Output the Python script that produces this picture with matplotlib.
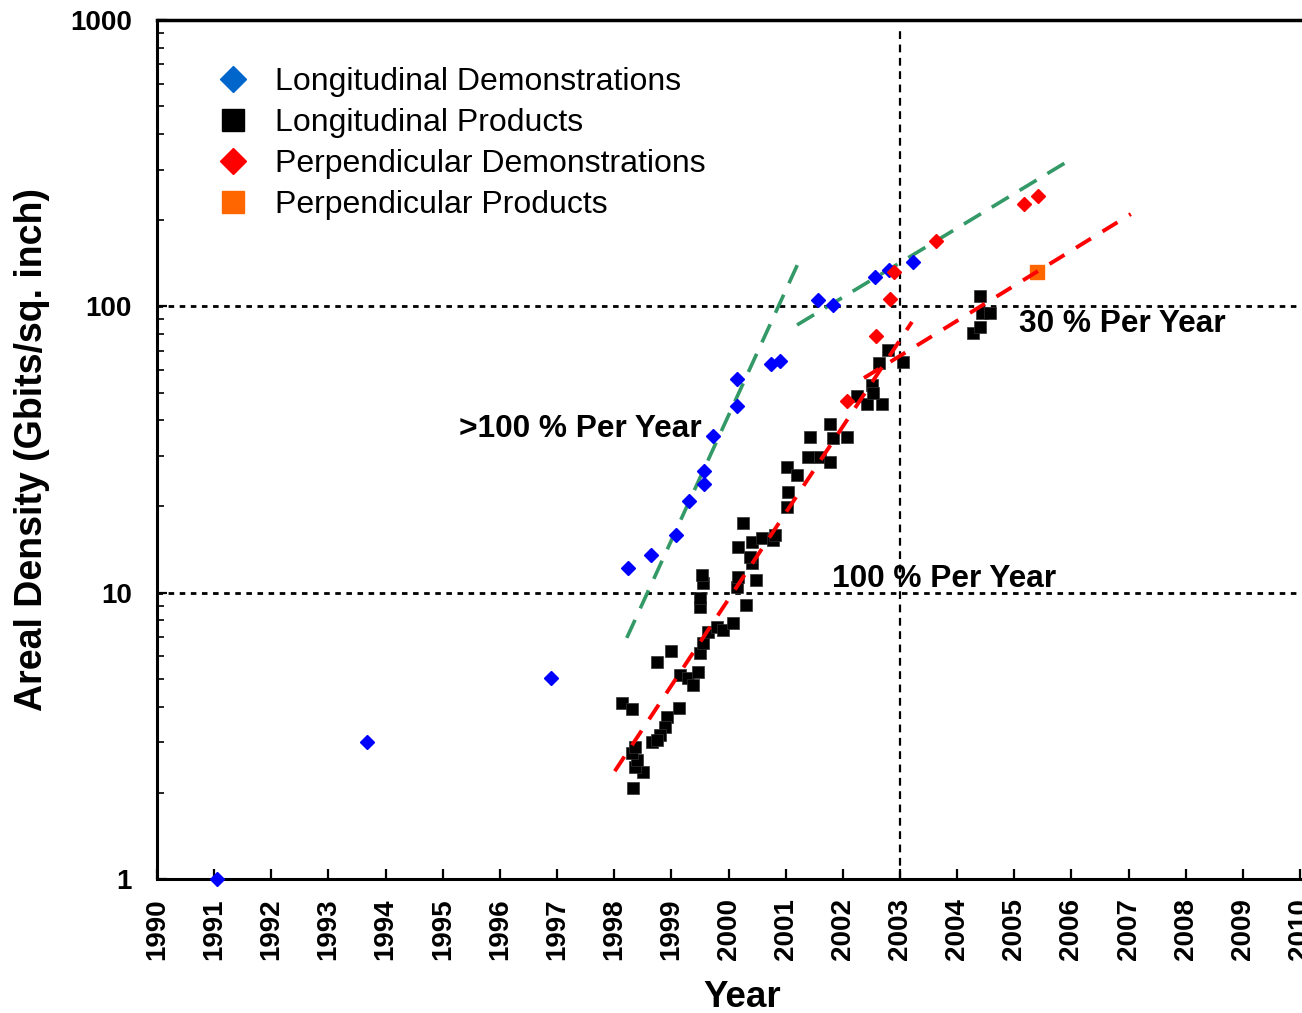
import matplotlib
matplotlib.use("Agg")
import matplotlib.pyplot as plt
from matplotlib.lines import Line2D
import numpy as np

plt.rcParams['font.family'] = ['Liberation Sans', 'DejaVu Sans']

# ---- data ----
long_demo_year = [1991.05, 1993.67, 1996.89, 1998.24, 1998.64, 1999.08, 1999.31, 1999.57,
                  1999.57, 1999.73, 2000.15, 2000.15, 2000.74, 2000.90, 2001.57, 2001.83,
                  2002.56, 2002.81, 2003.23]
long_demo_val = [1.0, 3.01, 5.04, 12.2, 13.5, 15.9, 20.9, 26.5, 24.0, 35.3, 55.8, 44.9,
                 62.9, 64.5, 105, 101, 127, 134, 143]

long_prod_year = [1998.33, 1998.50, 1998.36, 1998.40, 1998.31, 1998.36, 1998.14, 1998.31,
                  1999.13, 1998.92, 1998.89, 1998.80, 1998.66, 1998.75, 1998.75, 1998.99,
                  1999.15, 1999.29, 1999.38, 1999.47, 1999.50, 1999.55, 1999.64, 1999.80,
                  1999.90, 2000.08, 1999.50, 1999.50, 1999.55, 1999.54, 2000.31, 2000.15,
                  2000.17, 2000.48, 2000.41, 2000.38, 2000.17, 2000.41, 2000.59, 2000.78,
                  2000.81, 2000.25, 2001.02, 2001.04, 2001.02, 2001.20, 2001.43, 2001.39,
                  2001.60, 2001.78, 2001.78, 2001.83, 2002.07, 2002.25, 2002.51, 2002.42,
                  2002.69, 2002.53, 2002.63, 2002.79, 2003.05, 2004.40, 2004.44, 2004.58,
                  2004.28, 2004.40]
long_prod_val = [2.08, 2.36, 2.46, 2.60, 2.75, 2.89, 4.12, 3.92,
                 3.96, 3.68, 3.40, 3.18, 3.01, 3.06, 5.73, 6.26,
                 5.16, 5.04, 4.76, 5.28, 6.16, 6.67, 7.29, 7.59,
                 7.41, 7.84, 8.91, 9.58, 10.8, 11.5, 9.06, 10.5,
                 11.3, 11.1, 12.7, 13.3, 14.4, 15.0, 15.5, 15.3,
                 15.9, 17.5, 19.9, 22.5, 27.5, 25.8, 35.0, 29.8,
                 29.8, 28.6, 38.8, 34.7, 35.0, 48.6, 53.2, 45.6,
                 45.6, 49.8, 63.4, 70.4, 64.0, 109, 94.8, 94.8,
                 80.7, 84.7]

perp_demo_year = [2002.07, 2002.58, 2002.83, 2002.90, 2003.63, 2005.17, 2005.42]
perp_demo_val = [46.7, 78.8, 106, 132, 169, 228, 243]

perp_prod_year = [2005.40]
perp_prod_val = [132]

# trend lines (end points)
trend_green1_year = [1998.22, 2001.29]
trend_green1_val = [6.95, 152]
trend_green2_year = [2001.20, 2005.89]
trend_green2_val = [86.1, 317]
trend_red1_year = [1998.01, 2003.21]
trend_red1_val = [2.38, 88.2]
trend_red2_year = [2002.37, 2007.04]
trend_red2_val = [56.2, 210]

year_ticks = list(range(1990, 2011))
value_ticks = [1, 10, 100, 1000]
legend_labels = ["Longitudinal Demonstrations", "Longitudinal Products",
                 "Perpendicular Demonstrations", "Perpendicular Products"]

# ---- figure ----
fig = plt.figure(figsize=(13.02, 10.13), dpi=100)
ax = fig.add_axes([157/1302, 1-879/1013, 1143/1302, 859/1013])
ax.set_yscale('log')
ax.set_xlim(1990, 2010)
ax.set_ylim(1, 1000)

# reference lines
for v in [10, 100, 1000]:
    ax.axhline(v, color='black', lw=2.0, ls=(0, (2.0, 2.0)), zorder=1)
ax.plot([2003, 2003], [1, 950], color='black', lw=1.6, ls=(0, (3.5, 2.5)), zorder=1)

# trend lines
green = '#339966'
ax.plot(trend_green1_year, trend_green1_val, color=green, lw=2.6, ls=(0, (5.5, 3.5)), zorder=2)
ax.plot(trend_green2_year, trend_green2_val, color=green, lw=2.6, ls=(0, (5.5, 3.5)), zorder=2)

# data
ax.plot(long_demo_year, long_demo_val, ls='none', marker='D', ms=7.6, color='#0000FF',
        mec='#0000FF', zorder=3, clip_on=False)
ax.plot(long_prod_year, long_prod_val, ls='none', marker='s', ms=9.2, color='black',
        mec='#333333', mew=0.5, zorder=3)
ax.plot(perp_demo_year, perp_demo_val, ls='none', marker='D', ms=7.6, color='#FF0000',
        mec='#FF0000', zorder=4)
ax.plot(perp_prod_year, perp_prod_val, ls='none', marker='s', ms=10.5, color='#FF6600',
        mec='#FF6600', zorder=4)

ax.plot(trend_red1_year, trend_red1_val, color='#FF0000', lw=2.8, ls=(0, (4.5, 3.5)), zorder=5)
ax.plot(trend_red2_year, trend_red2_val, color='#FF0000', lw=2.8, ls=(0, (4.5, 3.5)), zorder=5)

# annotations
ax.text(1995.28, 37.2, ">100 % Per Year", fontsize=22.8, fontweight='bold', va='center', ha='left')
ax.text(2001.81, 11.2, "100 % Per Year", fontsize=22.8, fontweight='bold', va='center', ha='left')
ax.text(2005.08, 87, "30 % Per Year", fontsize=22.8, fontweight='bold', va='center', ha='left')

# axes styling
ax.spines['right'].set_visible(False)
ax.spines['top'].set_linewidth(2.5)
ax.spines['left'].set_linewidth(2.2)
ax.spines['bottom'].set_linewidth(2.2)

ax.set_xticks(year_ticks)
ax.set_xticklabels([str(y) for y in year_ticks], rotation=90, fontsize=20, fontweight='bold')
ax.set_yticks(value_ticks)
ax.set_yticklabels([str(v) for v in value_ticks], fontsize=20, fontweight='bold')
ax.tick_params(axis='x', direction='in', length=7, width=1.6, pad=14)
ax.tick_params(axis='y', which='major', direction='in', length=7, width=1.6, pad=18)
ax.tick_params(axis='y', which='minor', direction='in', length=5, width=1.2)
ax.tick_params(axis='x', which='minor', bottom=False)

ax.set_xlabel("Year", fontsize=26.5, fontweight='bold')
ax.xaxis.set_label_coords(0.512, -0.117)
ax.set_ylabel("Areal Density (Gbits/sq. inch)", fontsize=27, fontweight='bold')
ax.yaxis.set_label_coords(-0.094, 0.5)

handles = [
    Line2D([], [], ls='none', marker='D', ms=13.5, color='#0066CC'),
    Line2D([], [], ls='none', marker='s', ms=16.5, color='black'),
    Line2D([], [], ls='none', marker='D', ms=13.5, color='#FF0000'),
    Line2D([], [], ls='none', marker='s', ms=16.5, color='#FF6600'),
]
ax.legend(handles, legend_labels, loc='upper left', bbox_to_anchor=(0.0525, 0.945),
          frameon=False, fontsize=23, handlelength=1.0, handletextpad=0.8,
          labelspacing=0.34, borderpad=0, borderaxespad=0)

fig.savefig("out.png", dpi=100)
